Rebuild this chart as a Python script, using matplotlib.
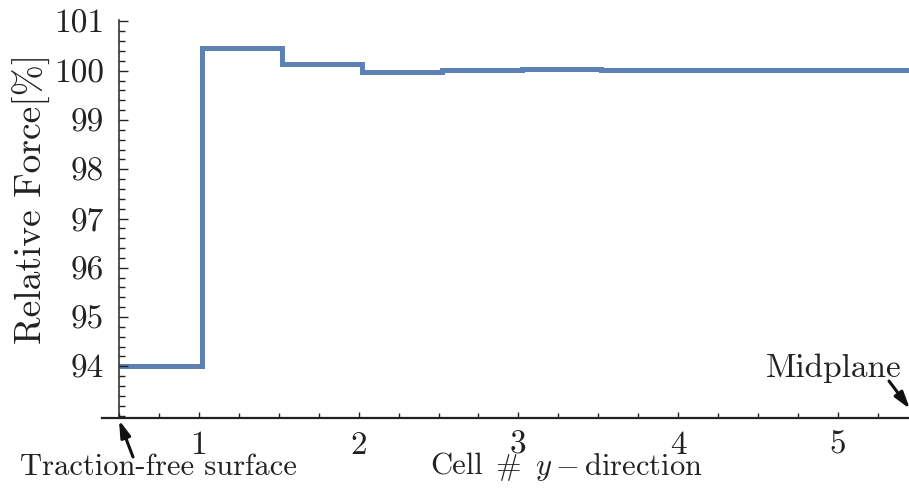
import matplotlib
matplotlib.use("Agg")
import matplotlib.pyplot as plt
from matplotlib.ticker import MultipleLocator
from matplotlib.patches import FancyArrowPatch

plt.rcParams['font.family'] = ['cmr10', 'DejaVu Serif']
plt.rcParams['mathtext.fontset'] = 'cm'
plt.rcParams['axes.formatter.use_mathtext'] = True

# Data: cell boundaries (x) and relative force per segment (%)
cell_edges = [0.5, 1.02, 1.52, 2.02, 2.52, 3.02, 3.52, 4.02, 4.52, 5.02, 5.52]
relative_force = [94.0, 100.46, 100.13, 99.98, 100.02, 100.03, 100.01, 100.02, 100.02, 100.02]
x_ticks = [1, 2, 3, 4, 5]
y_ticks = [94, 95, 96, 97, 98, 99, 100, 101]

W, H = 909, 488
fig = plt.figure(figsize=(W / 100, H / 100), dpi=100)
ax = fig.add_axes([119 / W, (H - 418) / H, (W - 119) / W, (418 - 20) / H])

color = '#5E81B5'
ax.stairs(relative_force, cell_edges, color=color, linewidth=3.6, baseline=None)

ax.set_xlim(0.5, 5.445)
ax.set_ylim(92.95, 101.03)

for s in ['top', 'right', 'bottom']:
    ax.spines[s].set_visible(False)
ax.spines['left'].set_linewidth(1.1)
ax.spines['left'].set_color('#222222')
# bottom axis line extending slightly left of the y-axis
ax.plot([-0.021, 1.0], [0, 0], transform=ax.transAxes, color='#222222',
        linewidth=1.6, clip_on=False)

ax.xaxis.set_minor_locator(MultipleLocator(0.25))
ax.set_xticks(x_ticks)
ax.yaxis.set_minor_locator(MultipleLocator(0.2))
ax.set_yticks(y_ticks)
ax.set_yticklabels([str(v) for v in y_ticks])
ax.set_xticklabels([str(v) for v in x_ticks])

ax.tick_params(axis='y', which='major', direction='in', length=6.5, width=1.0,
               labelsize=24, pad=11, colors='#222222', labelcolor='#222222')
ax.tick_params(axis='y', which='minor', direction='in', length=4.3, width=1.0,
               colors='#222222')
ax.tick_params(axis='x', which='major', direction='in', length=4.5, width=1.0,
               labelsize=24, pad=9, colors='#222222', labelcolor='#222222')
ax.tick_params(axis='x', which='minor', direction='in', length=3.8, width=1.0,
               colors='#222222')

tc = '#222222'
fig.text(32 / W, 1 - 199 / H, 'Relative Force[%]', rotation=90, ha='center',
         va='center', fontsize=27, color=tc)
fig.text(430 / W, 1 - 467 / H, 'Cell', ha='left', va='center', fontsize=22, color=tc)
fig.text(495 / W, 1 - 467 / H, '#', ha='left', va='center', fontsize=22, color=tc)
fig.text(535 / W, 1 - 467 / H, r'$y-$direction', ha='left', va='center',
         fontsize=22, color=tc)
fig.text(158 / W, 1 - 467 / H, 'Traction-free surface', ha='center', va='center',
         fontsize=22, color=tc)
fig.text(834 / W, 1 - 368 / H, 'Midplane', ha='center', va='center',
         fontsize=24, color=tc)

astyle = '-|>,head_length=10,head_width=3'
fig.add_artist(FancyArrowPatch(
    (133 / W, 1 - 457 / H), (119 / W, 1 - 420 / H), transform=fig.transFigure,
    arrowstyle=astyle, color='#111111', linewidth=2.2, mutation_scale=1.0,
    shrinkA=0, shrinkB=0))
fig.add_artist(FancyArrowPatch(
    (889 / W, 1 - 381 / H), (910 / W, 1 - 409 / H), transform=fig.transFigure,
    arrowstyle=astyle, color='#111111', linewidth=2.2, mutation_scale=1.0,
    shrinkA=0, shrinkB=0))

fig.savefig('out.png', dpi=100)
